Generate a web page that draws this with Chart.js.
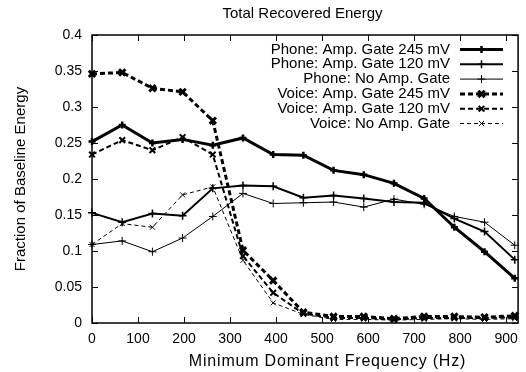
<!DOCTYPE html>
<html>
<head>
<meta charset="utf-8">
<script src="https://cdn.jsdelivr.net/npm/chart.js@4.4.1/dist/chart.umd.min.js"></script>
<style>
html,body{margin:0;padding:0;background:#fff;}
#wrap{width:526px;height:372px;}
</style>
</head>
<body>
<div id="wrap"><canvas id="c" width="526" height="372"></canvas></div>
<script>
// ---- data ----
const freqs = [0, 65.6, 131.3, 196.9, 262.5, 328.1, 393.8, 459.4, 525.0, 590.6, 656.3, 721.9, 787.5, 853.1, 918.8];
const phone245  = [0.252, 0.275, 0.250, 0.255, 0.247, 0.257, 0.234, 0.233, 0.212, 0.206, 0.194, 0.173, 0.133, 0.099, 0.062];
const phone120  = [0.153, 0.140, 0.152, 0.149, 0.187, 0.191, 0.190, 0.174, 0.177, 0.173, 0.168, 0.167, 0.145, 0.127, 0.088];
const phoneNone = [0.109, 0.114, 0.099, 0.118, 0.148, 0.180, 0.166, 0.167, 0.168, 0.161, 0.172, 0.165, 0.148, 0.140, 0.108];
const voice245  = [0.346, 0.348, 0.326, 0.321, 0.281, 0.101, 0.059, 0.015, 0.009, 0.009, 0.006, 0.009, 0.009, 0.008, 0.010];
const voice120  = [0.234, 0.254, 0.240, 0.258, 0.234, 0.093, 0.042, 0.013, 0.007, 0.007, 0.005, 0.007, 0.007, 0.007, 0.008];
const voiceNone = [0.109, 0.138, 0.133, 0.178, 0.189, 0.087, 0.028, 0.012, 0.005, 0.005, 0.004, 0.005, 0.006, 0.005, 0.006];
const seriesNames = [
  'Phone: Amp. Gate 245 mV',
  'Phone: Amp. Gate 120 mV',
  'Phone: No Amp. Gate',
  'Voice: Amp. Gate 245 mV',
  'Voice: Amp. Gate 120 mV',
  'Voice: No Amp. Gate'
];
const xTickValues = [0, 100, 200, 300, 400, 500, 600, 700, 800, 900];
const yTickValues = [0, 0.05, 0.1, 0.15, 0.2, 0.25, 0.3, 0.35, 0.4];
const chartTitle = 'Total Recovered Energy';
const xTitle = 'Minimum Dominant Frequency (Hz)';
const yTitle = 'Fraction of Baseline Energy';

const FONT = '"Liberation Sans", Arial, Helvetica, sans-serif';

function pts(vals){ return vals.map((v,i)=>({x:freqs[i], y:v})); }

const styles = [
  {w:3,   dash:[],    ps:'cross',    r:3.5, pw:2.5},
  {w:2,   dash:[],    ps:'cross',    r:4,   pw:1.5},
  {w:1,   dash:[],    ps:'cross',    r:4,   pw:1},
  {w:3,   dash:[5,3], ps:'crossRot', r:4.5, pw:3},
  {w:2,   dash:[5,3], ps:'crossRot', r:4,   pw:2},
  {w:1,   dash:[4,3], ps:'crossRot', r:3.5, pw:1}
];
const seriesVals = [phone245, phone120, phoneNone, voice245, voice120, voiceNone];

const datasets = seriesVals.map((vals,i)=>({
  label: seriesNames[i],
  data: pts(vals),
  borderColor:'#000',
  backgroundColor:'#000',
  borderWidth: styles[i].w,
  borderDash: styles[i].dash,
  pointStyle: styles[i].ps,
  pointRadius: styles[i].r,
  pointBorderWidth: styles[i].pw,
  pointBorderColor:'#000',
  pointHoverRadius: styles[i].r,
  tension: 0,
  clip: false,
  fill: false
}));

function drawMarker(ctx, style, x, y, r, lw){
  ctx.save();
  ctx.setLineDash([]);
  ctx.lineWidth = lw;
  ctx.strokeStyle = '#000';
  ctx.beginPath();
  if (style === 'cross'){
    ctx.moveTo(x-r, y); ctx.lineTo(x+r, y);
    ctx.moveTo(x, y-r); ctx.lineTo(x, y+r);
  } else {
    const d = r*0.7071;
    ctx.moveTo(x-d, y-d); ctx.lineTo(x+d, y+d);
    ctx.moveTo(x-d, y+d); ctx.lineTo(x+d, y-d);
  }
  ctx.stroke();
  ctx.restore();
}

const framePlugin = {
  id:'frame',
  afterDatasetsDraw(chart){
    const ctx = chart.ctx;
    const a = chart.chartArea;
    const xs = chart.scales.x, ys = chart.scales.y;
    ctx.save();
    ctx.strokeStyle = '#000';
    ctx.lineWidth = 1.5;
    ctx.setLineDash([]);
    ctx.strokeRect(a.left, a.top, a.right-a.left, a.bottom-a.top);
    ctx.lineWidth = 1;
    const tl = 6;
    ctx.beginPath();
    xTickValues.forEach(v=>{
      const px = Math.round(xs.getPixelForValue(v))+0.5;
      ctx.moveTo(px, a.bottom); ctx.lineTo(px, a.bottom-tl);
      ctx.moveTo(px, a.top); ctx.lineTo(px, a.top+tl);
    });
    yTickValues.forEach(v=>{
      const py = Math.round(ys.getPixelForValue(v))+0.5;
      ctx.moveTo(a.left, py); ctx.lineTo(a.left+tl, py);
      ctx.moveTo(a.right, py); ctx.lineTo(a.right-tl, py);
    });
    ctx.stroke();

    // title
    ctx.fillStyle = '#000';
    ctx.font = '15px ' + FONT;
    ctx.textAlign = 'center';
    ctx.textBaseline = 'middle';
    ctx.fillText(chartTitle, 302.5, 14);

    // x axis title
    ctx.save();
    if ('letterSpacing' in ctx) { ctx.letterSpacing = '0.8px'; }
    ctx.font = '16px ' + FONT;
    ctx.textAlign = 'center';
    ctx.textBaseline = 'middle';
    ctx.fillText(xTitle, 327.5, 362);
    ctx.restore();

    // legend (gnuplot style: right-aligned text, sample to the right)
    const textRight = 450, s0 = 460, s1 = 503, mx = (s0+s1)/2;
    ctx.font = '15px ' + FONT;
    chart.data.datasets.forEach((ds,i)=>{
      const y = 49.5 + i*14.8;
      ctx.textAlign = 'right';
      ctx.textBaseline = 'middle';
      ctx.fillText(ds.label, textRight, y);
      ctx.save();
      ctx.lineWidth = ds.borderWidth;
      ctx.setLineDash(ds.borderDash);
      ctx.beginPath();
      ctx.moveTo(s0, y); ctx.lineTo(s1, y);
      ctx.stroke();
      ctx.restore();
      drawMarker(ctx, ds.pointStyle, mx, y, ds.pointRadius, ds.pointBorderWidth);
    });
    ctx.restore();
  }
};

new Chart(document.getElementById('c'), {
  type:'line',
  data:{datasets},
  plugins:[framePlugin],
  options:{
    responsive:false,
    devicePixelRatio:1,
    animation:false,
    events:[],
    layout:{padding:{top:35, right:6, left:0, bottom:0}},
    plugins:{legend:{display:false}, title:{display:false}, tooltip:{enabled:false}},
    scales:{
      x:{
        type:'linear', min:0, max:926,
        afterFit(s){ s.height = 49; },
        grid:{display:false, drawTicks:false},
        border:{display:false},
        ticks:{stepSize:100, includeBounds:false, padding:8, color:'#000', font:{family:FONT, size:14}, maxRotation:0,
               callback:(v)=> xTickValues.includes(v) ? String(v) : ''},
        title:{display:false}
      },
      y:{
        type:'linear', min:0, max:0.4,
        afterFit(s){ s.width = 92; },
        grid:{display:false, drawTicks:false},
        border:{display:false},
        ticks:{stepSize:0.05, padding:10, color:'#000', font:{family:FONT, size:14},
               callback:(v)=> String(Math.round(v*100)/100)},
        title:{display:true, text:yTitle, color:'#000', font:{family:FONT, size:15}, padding:{top:12, bottom:0}}
      }
    }
  }
});
</script>
</body>
</html>
